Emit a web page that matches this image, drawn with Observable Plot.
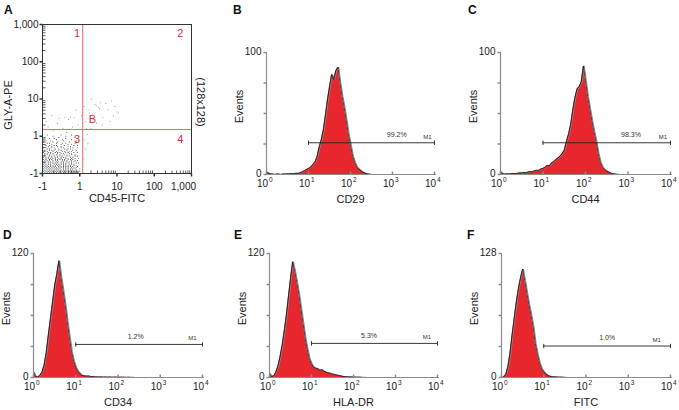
<!DOCTYPE html>
<html><head><meta charset="utf-8">
<script src="https://cdn.jsdelivr.net/npm/d3@7"></script>
<script src="https://cdn.jsdelivr.net/npm/@observablehq/plot@0.6"></script>
<style>
body{margin:0;background:#fff;}
#root{position:relative;width:679px;height:410px;overflow:hidden;font-family:"Liberation Sans",Arial,sans-serif;}
.panel{position:absolute;}
.panel svg{overflow:visible;}
.letter{position:absolute;font-weight:bold;font-size:12px;line-height:12px;color:#111;}
</style></head><body><div id="root"></div>
<script>
// ---------- DATA ----------
// Panel A: dot plot GLY-A-PE vs CD45-FITC (axis units = decades, -1 label = clipped low end)
const axisADecades = [-1, 0, 1, 2, 3];
const axisATickLabels = ["-1", "1", "10", "100", "1,000"];
const gateX = 0.08;   // vertical quadrant line (decades)
const gateY = 0.18;   // horizontal quadrant line (decades)
const quadLabels = ["1", "2", "3", "4", "B"];
const quadX = [-0.07, 2.7, -0.07, 2.7, 0.34];
const quadY = [2.75, 2.75, -0.09, -0.09, 0.45];
// dense event cloud at channel resolution (32 channels / decade), top row first, '#' = event
const denseRows = [
  "....#...........#........#........",
  ".........#..........#.............",
  "..#...........#.............#.....",
  "......#...#.........#.............",
  "#...........#....#.......#........",
  "...#...#..........#..........#....",
  ".#.......#...#.........#..........",
  "....#.#.....#....#..#.......#.....",
  "#.#.....#.......#.....#..#........",
  "...#..#...#.#......#.......#..#...",
  "#....#..#....#..#.....#.#.........",
  ".#.#....#.#.....#.#.......#...#...",
  "#...#.#....#..#....#..#.#.........",
  "..#...#.#.#...#.#....#....#..#....",
  "#.#.#....#..#....#.#...#.#........",
  ".#...#.#...#.#.#....#.#....#..#...",
  "#.#.#..#.#...#..#.#....#.#........",
  "..#.#.#...#.#..#...#.#...#..#.....",
  "#.#...#.#.#..#.#.#...#.#....#.#...",
  ".#.#.#..#..#.#..#.#.#...#.#.......",
  "#..#.#.#.#.#..#.#...#.#..#..#..#..",
  ".#.#..#.#..#.#.#.#.#..#.#.#.......",
  "#.#.#.#..#.#.#...#.#.#...#..#.#...",
  ".#.#.#.#.#..#.#.#.#..#.#.#.#......",
  "#.#..#.#.#.#.#..#.#.#.#..#...#.#..",
  ".#.#.#.#..#.#.#.#.#.#..#.#.#......",
  "#.#.#..#.#.#.#.#..#.#.#.#..#.#....",
  ".#.#.#.#.#.#..#.#.#.#.#.#.#...#...",
  "#.#.#.#.#.#.#.#.#.#.#.#..#.#.#....",
  ".#.#.#.#.#.#.#.#..#.#.#.#.#.#...#.",
  "#.#.#.#.#.#.#.#.#.#.#.#.#.#..#....",
  ".#.#.#.#.#.#.#.#.#.#.#.#.#.#.#..#.",
  "#.#.#.#.#.#.#.#.#.#.#.#.#.#.#.#...",
  "################################.."
];
const sparseX = [-0.85,-0.6,-0.45,-0.3,-0.15,-0.55,-0.05,0.05,0.15,0.25,0.35,0.4,0.5,0.55,0.62,0.7,0.75,0.85,1.0,1.04,0.3,0.2,0.12,0.22,-0.2,-0.7,-0.9,-0.35,0.45,0.9,0.6,-0.1,0.12,0.32,0.05,0.15,0.1,-0.75,0.8,0.95,-0.4,-0.25,0.26,0.18,0.44,0.53];
const sparseY = [0.25,0.35,0.2,0.45,0.5,0.48,0.3,0.55,0.4,0.7,0.6,0.85,0.78,0.9,0.5,0.88,0.72,0.95,0.65,0.62,0.2,0.05,-0.1,-0.2,0.25,0.15,0.4,0.1,0.35,0.55,0.3,0.7,0.8,1.0,0.18,-0.35,-0.6,0.55,0.4,0.8,0.5,0.52,0.62,0.2,0.83,0.73];

// Histograms B-F: counts per 0.05-decade bin, from 10^0 to 10^4
const binStep = 0.05;
const decades = [0, 1, 2, 3, 4];
const decadeExponents = ["0", "1", "2", "3", "4"];
const cd29Counts = [2,1,0.5,0.3,0,0.4,0.2,0,0.5,0.3,
  0.6,0.4,0.8,0.6,1.0,0.9,1.4,2.0,3.0,4.0,
  5,6,8,10,14,22,28,36,48,61,
  72,82,78,85,88,75,64,55,44,33,
  24,15,10,6,4.5,3,1.8,1.0,0.5,0.2,
  0,0,0,0,0,0,0,0,0,0,
  0,0,0,0,0,0,0,0,0,0,
  0,0,0,0,0,0,0,0,0,0,0];
const cd44Counts = [2.5,0.5,0.3,0.5,0.4,0.6,0.8,0.7,1.0,1.3,
  1.2,1.6,1.4,2.0,2.4,2.2,3.0,3.5,3.2,4.5,
  5.0,6.0,7.5,7.0,9.5,10.5,12,13.5,15,17,
  20,27,33,41,53,63,70,72,76,89,
  77,64,54,44,35,27,17,10,6,4,
  2.8,1.8,1.0,0.6,0.3,0.1,0,0,0,0,
  0,0,0,0,0,0,0,0,0,0,
  0,0,0,0,0,0,0,0,0,0,0];
const cd34Counts = [5,1,0.5,2,5,12,24,41,57,73,
  89,100,113,97,84,70,54,39,25,16,
  10,6,4,2,1.6,1.2,1.5,0.8,1.0,0.6,
  0.5,0.4,0.5,0.3,0.4,0.3,0.4,0.2,0.3,0.3,
  0.2,0.3,0.2,0.2,0.1,0.2,0.1,0.1,0,0,
  0,0,0,0,0,0,0,0,0,0,
  0,0,0,0,0,0,0,0,0,0,
  0,0,0,0,0,0,0,0,0,0,0];
const hladrCounts = [4,1,1.5,5,11,20,31,45,60,78,
  96,112,103,92,80,66,52,38,27,18,
  13,10,9,8.5,7,7.5,6,5,4.5,4,
  3.2,3,2.2,2,1.5,1.0,0.8,0.6,0.5,0.5,
  0.4,0.3,0.2,0.3,0.1,0.1,0,0,0,0,
  0,0,0,0,0,0,0,0,0,0,
  0,0,0,0,0,0,0,0,0,0,
  0,0,0,0,0,0,0,0,0,0,0];
const fitcCounts = [0,0.5,3,11,25,44,61,78,92,103,
  112,100,87,75,64,52,35,24,15,9,
  6,3.5,2,1.2,0.8,0.6,0.5,0.3,0.3,0.2,
  0.1,0,0,0,0,0,0,0,0,0,
  0,0,0,0,0,0,0,0,0,0,
  0,0,0,0,0,0,0,0,0,0,
  0,0,0,0,0,0,0,0,0,0,
  0,0,0,0,0,0,0,0,0,0,0];
const histCounts = [cd29Counts, cd44Counts, cd34Counts, hladrCounts, fitcCounts];
const histNames = ["CD29", "CD44", "CD34", "HLA-DR", "FITC"];
const histLetters = ["B", "C", "D", "E", "F"];
const histYMax = [100, 100, 120, 120, 128];
const markerRange = [1, 4];
const markerLevel = [26, 26, 32, 33, 32.5];
const markerPct = ["99.2%", "98.3%", "1.2%", "5.3%", "1.0%"];
const pctX = [3.1, 3.07, 2.42, 2.37, 2.5];
const m1X = [3.83, 3.82, 3.76, 3.75, 3.67];

// ---------- RENDER ----------
const FONT = '"Liberation Sans", Arial, sans-serif';
const root = document.getElementById("root");
function place(node, left, top) {
  const d = document.createElement("div");
  d.className = "panel"; d.style.left = left + "px"; d.style.top = top + "px";
  d.appendChild(node); root.appendChild(d);
}
function letter(t, left, top) {
  const d = document.createElement("div");
  d.className = "letter"; d.textContent = t;
  d.style.left = left + "px"; d.style.top = top + "px";
  root.appendChild(d);
}
const upTick = {draw(ctx) { ctx.moveTo(0, 0); ctx.lineTo(0, -3); }};
const downTick = {draw(ctx) { ctx.moveTo(0, 0); ctx.lineTo(0, 3); }};
const rightTick = {draw(ctx) { ctx.moveTo(0, 0); ctx.lineTo(3, 0); }};
const leftTick = {draw(ctx) { ctx.moveTo(0, 0); ctx.lineTo(-3, 0); }};
const endTick = {draw(ctx) { ctx.moveTo(0, -2.2); ctx.lineTo(0, 2.2); }};

// Panel A
const densePts = [];
denseRows.forEach((row, r) => {
  const ch = denseRows.length - 1 - r;
  [...row].forEach((c, col) => { if (c === "#") densePts.push({x: -1 + col / 32, y: -1 + ch / 32}); });
});
const sparsePts = sparseX.map((x, i) => ({x, y: sparseY[i]}));
const minor = [];
for (const d of [-1, 0, 1, 2]) for (let k = 2; k <= 9; k++) minor.push(d + Math.log10(k));
const quad = quadLabels.map((t, i) => ({t, x: quadX[i], y: quadY[i]}));
const axLbl = axisADecades.map((d, i) => ({d, t: axisATickLabels[i]}));

const plotA = Plot.plot({
  width: 230, height: 210, marginLeft: 42, marginRight: 39, marginTop: 24, marginBottom: 37,
  x: {domain: [-1, 3], axis: null}, y: {domain: [-1, 3], axis: null},
  style: {fontFamily: FONT, fontSize: "10px", color: "#222", background: "transparent"},
  marks: [
    Plot.dot(densePts, {x: "x", y: "y", symbol: "square", r: 0.52, fill: "#4a4a4a"}),
    Plot.dot(sparsePts, {x: "x", y: "y", symbol: "square", r: 0.5, fill: "#888"}),
    Plot.ruleX([gateX], {stroke: "#e36a74", strokeWidth: 1}),
    Plot.ruleY([gateY], {stroke: "#e36a74", strokeWidth: 1}),
    Plot.frame({stroke: "#333", strokeWidth: 1}),
    Plot.dot(minor, {x: d => d, y: -1, symbol: upTick, stroke: "#333", fill: "none", strokeWidth: 0.8}),
    Plot.dot(minor, {x: -1, y: d => d, symbol: rightTick, stroke: "#333", fill: "none", strokeWidth: 0.8}),
    Plot.dot(axisADecades, {x: d => d, y: -1, symbol: downTick, stroke: "#333", fill: "none"}),
    Plot.dot(axisADecades, {x: -1, y: d => d, symbol: leftTick, stroke: "#333", fill: "none"}),
    Plot.text(axLbl.slice(0, 4), {x: "d", y: -1, text: "t", dy: 13, fontSize: 10, fill: "#222"}),
    Plot.text(axLbl.slice(4), {x: "d", y: -1, text: "t", dy: 13, dx: -8, fontSize: 10, fill: "#222"}),
    Plot.text(axLbl, {x: -1, y: "d", text: "t", dx: -4, textAnchor: "end", fontSize: 10, fill: "#222"}),
    Plot.text(quad, {x: "x", y: "y", text: "t", fontSize: 11, fill: "#cf2d3a"}),
    Plot.text(["GLY-A-PE"], {frameAnchor: "left", textAnchor: "middle", lineAnchor: "middle", rotate: -90, dx: -34, dy: 6, fontSize: 11, fill: "#222"}),
    Plot.text(["(128x128)"], {frameAnchor: "right", textAnchor: "middle", lineAnchor: "middle", rotate: 90, dx: 9, dy: 3, fontSize: 11, fill: "#222"}),
    Plot.text(["CD45-FITC"], {frameAnchor: "bottom", lineAnchor: "middle", dy: 25, fontSize: 11, fill: "#222"})
  ]
});
place(plotA, 0, 0);
letter("A", 4, 4);

// Histograms
const boxes = [
  {left: 230, top: 0, w: 225, h: 210, ml: 36, mr: 21, mt: 52, mb: 36, lx: 233, ly: 4},
  {left: 455, top: 0, w: 224, h: 210, ml: 45, mr: 9, mt: 52, mb: 36, lx: 468, ly: 4},
  {left: 0, top: 225, w: 230, h: 185, ml: 33, mr: 28, mt: 28, mb: 33, lx: 3, ly: 229},
  {left: 230, top: 225, w: 225, h: 185, ml: 39, mr: 18, mt: 28, mb: 33, lx: 234, ly: 229},
  {left: 455, top: 225, w: 224, h: 185, ml: 46, mr: 9, mt: 28, mb: 33, lx: 467, ly: 229}
];
histCounts.forEach((counts, k) => {
  const b = boxes[k];
  const rows = counts.map((c, i) => ({x: i * binStep, y: c}));
  const yMax = histYMax[k];
  const yTicks = [0, 0.25, 0.5, 0.75, 1].map(f => f * yMax);
  const decLbl = decades.map((d, i) => ({d, e: decadeExponents[i]}));
  const p = Plot.plot({
    width: b.w, height: b.h, marginLeft: b.ml, marginRight: b.mr, marginTop: b.mt, marginBottom: b.mb,
    x: {domain: [0, 4], axis: null}, y: {domain: [0, yMax], axis: null},
    style: {fontFamily: FONT, fontSize: "10px", color: "#222", background: "transparent"},
    marks: [
      Plot.areaY(rows, {x: "x", y: "y", fill: "#e8262d"}),
      Plot.lineY(rows, {x: "x", y: "y", stroke: "#8a8a8a", strokeWidth: 1, dx: 0.9}),
      Plot.lineY(rows, {x: "x", y: "y", stroke: "#151515", strokeWidth: 0.8}),
      Plot.ruleX([0], {stroke: "#8c8c8c", strokeWidth: 1.2}),
      Plot.ruleY([0], {stroke: "#8c8c8c", strokeWidth: 1.2}),
      Plot.dot(yTicks, {x: 0, y: d => d, symbol: leftTick, stroke: "#8c8c8c", fill: "none"}),
      Plot.dot(decades, {x: d => d, y: 0, symbol: upTick, stroke: "#8c8c8c", fill: "none"}),
      Plot.text([0, yMax], {x: 0, y: d => d, text: d => String(d), dx: -5, dy: -1, textAnchor: "end", fontSize: 10, fill: "#222"}),
      Plot.text(decLbl, {x: "d", y: 0, text: () => "10", textAnchor: "end", dx: 1.5, dy: 9.5, fontSize: 10, fill: "#222"}),
      Plot.text(decLbl, {x: "d", y: 0, text: "e", textAnchor: "start", dx: 2.5, dy: 5, fontSize: 6.5, fill: "#222"}),
      Plot.ruleY([markerLevel[k]], {x1: markerRange[0], x2: markerRange[1], stroke: "#222", strokeWidth: 0.9}),
      Plot.dot(markerRange, {x: d => d, y: markerLevel[k], symbol: endTick, stroke: "#222", fill: "none", strokeWidth: 0.9}),
      Plot.text([markerPct[k]], {x: pctX[k], y: markerLevel[k], dy: -8, fontSize: 7, fill: "#333"}),
      Plot.text(["M1"], {x: m1X[k], y: markerLevel[k], dy: -6, fontSize: 6, fill: "#333"}),
      Plot.text(["Events"], {frameAnchor: "left", textAnchor: "middle", lineAnchor: "middle", rotate: -90, dx: -27.5, dy: -7, fontSize: 11, fill: "#222"}),
      Plot.text([histNames[k]], {frameAnchor: "bottom", lineAnchor: "middle", dy: 25, fontSize: 11, fill: "#222"})
    ]
  });
  place(p, b.left, b.top);
  letter(histLetters[k], b.lx, b.ly);
});
</script></body></html>
